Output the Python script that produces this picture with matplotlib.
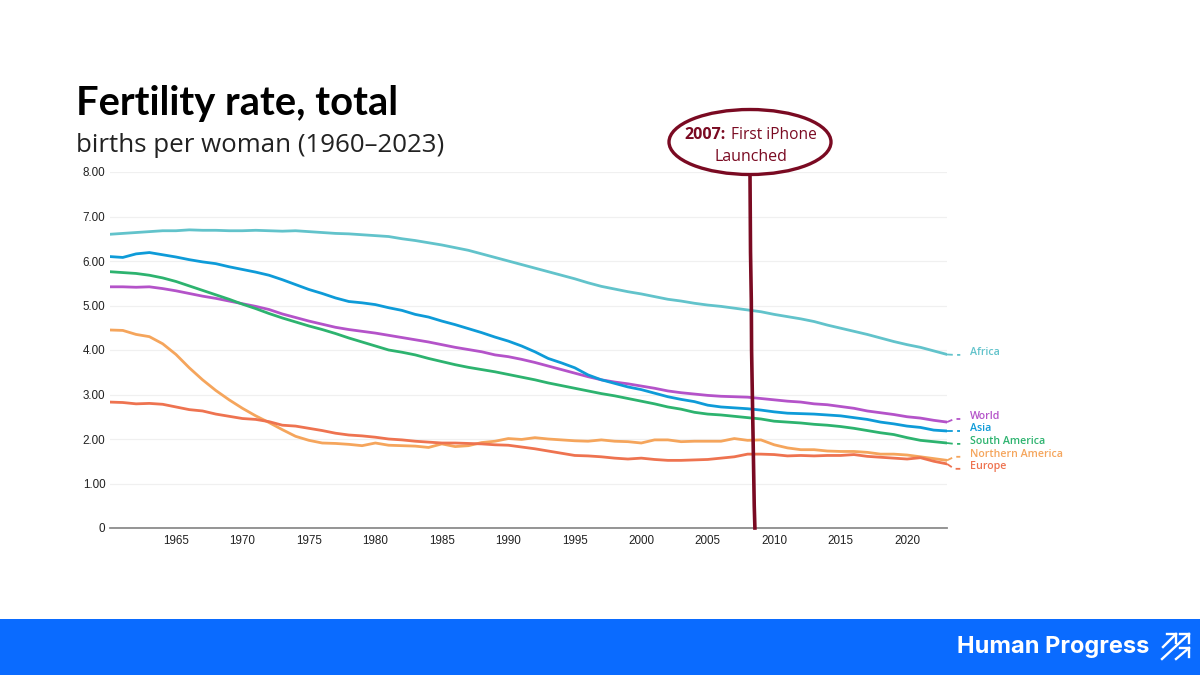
import matplotlib
matplotlib.use("Agg")
import matplotlib.pyplot as plt
from matplotlib.patches import Ellipse, Rectangle
import numpy as np

years = np.arange(1960, 2024)

africa = [6.60, 6.62, 6.64, 6.66, 6.68, 6.68, 6.70, 6.69, 6.69, 6.68, 6.68, 6.69, 6.68, 6.67, 6.68, 6.66,
          6.64, 6.62, 6.61, 6.59, 6.57, 6.55, 6.50, 6.46, 6.41, 6.36, 6.30, 6.24, 6.16, 6.08, 6.00, 5.92,
          5.84, 5.76, 5.68, 5.60, 5.51, 5.43, 5.37, 5.31, 5.26, 5.20, 5.14, 5.10, 5.05, 5.01, 4.98, 4.94,
          4.90, 4.86, 4.80, 4.75, 4.70, 4.64, 4.56, 4.49, 4.42, 4.35, 4.27, 4.19, 4.12, 4.06, 3.98, 3.90]
asia = [6.10, 6.08, 6.16, 6.19, 6.14, 6.09, 6.03, 5.98, 5.94, 5.87, 5.81, 5.75, 5.68, 5.58, 5.47, 5.36,
        5.27, 5.17, 5.09, 5.06, 5.02, 4.95, 4.89, 4.80, 4.74, 4.65, 4.57, 4.48, 4.39, 4.29, 4.20, 4.09,
        3.96, 3.81, 3.71, 3.60, 3.44, 3.33, 3.25, 3.17, 3.11, 3.03, 2.95, 2.89, 2.84, 2.76, 2.72, 2.70,
        2.68, 2.65, 2.61, 2.58, 2.57, 2.56, 2.54, 2.52, 2.48, 2.44, 2.38, 2.34, 2.29, 2.26, 2.20, 2.18]
south_america = [5.76, 5.74, 5.72, 5.68, 5.62, 5.54, 5.44, 5.34, 5.24, 5.14, 5.03, 4.93, 4.82, 4.72, 4.63, 4.54,
                 4.46, 4.37, 4.27, 4.18, 4.09, 4.00, 3.95, 3.89, 3.81, 3.74, 3.67, 3.61, 3.56, 3.51, 3.45, 3.39,
                 3.33, 3.26, 3.20, 3.14, 3.08, 3.02, 2.97, 2.91, 2.85, 2.79, 2.72, 2.67, 2.60, 2.56, 2.54, 2.51,
                 2.48, 2.45, 2.40, 2.38, 2.36, 2.33, 2.31, 2.28, 2.24, 2.19, 2.14, 2.10, 2.03, 1.97, 1.94, 1.91]
world = [5.42, 5.42, 5.41, 5.42, 5.38, 5.33, 5.27, 5.21, 5.16, 5.10, 5.04, 4.98, 4.91, 4.81, 4.73, 4.65,
         4.58, 4.51, 4.46, 4.42, 4.38, 4.33, 4.28, 4.23, 4.18, 4.12, 4.06, 4.01, 3.96, 3.89, 3.85, 3.79,
         3.72, 3.64, 3.56, 3.48, 3.40, 3.33, 3.28, 3.24, 3.19, 3.14, 3.08, 3.04, 3.01, 2.98, 2.96, 2.95,
         2.94, 2.91, 2.88, 2.85, 2.83, 2.79, 2.77, 2.73, 2.69, 2.63, 2.59, 2.55, 2.50, 2.47, 2.42, 2.38]
northern_america = [4.45, 4.44, 4.35, 4.30, 4.14, 3.90, 3.60, 3.33, 3.09, 2.88, 2.69, 2.52, 2.37, 2.21, 2.06, 1.97,
                    1.91, 1.90, 1.88, 1.85, 1.91, 1.86, 1.85, 1.84, 1.81, 1.89, 1.83, 1.85, 1.92, 1.95, 2.01, 1.99,
                    2.03, 2.00, 1.98, 1.96, 1.95, 1.98, 1.95, 1.94, 1.91, 1.98, 1.98, 1.94, 1.95, 1.95, 1.95, 2.01,
                    1.97, 1.98, 1.87, 1.80, 1.76, 1.76, 1.73, 1.72, 1.72, 1.70, 1.66, 1.66, 1.64, 1.60, 1.56, 1.52]
europe = [2.83, 2.82, 2.79, 2.80, 2.78, 2.72, 2.66, 2.63, 2.56, 2.51, 2.46, 2.44, 2.39, 2.31, 2.29, 2.24,
          2.19, 2.13, 2.09, 2.07, 2.04, 2.00, 1.98, 1.95, 1.93, 1.91, 1.91, 1.90, 1.89, 1.87, 1.86, 1.82,
          1.78, 1.73, 1.68, 1.63, 1.62, 1.60, 1.57, 1.55, 1.57, 1.54, 1.52, 1.52, 1.53, 1.54, 1.57, 1.60,
          1.66, 1.66, 1.65, 1.62, 1.63, 1.62, 1.63, 1.63, 1.65, 1.61, 1.59, 1.57, 1.55, 1.58, 1.50, 1.44]

series_names = ['Africa', 'World', 'Asia', 'South America', 'Northern America', 'Europe']
series_values = [africa, world, asia, south_america, northern_america, europe]
series_colors = ['#62C3CB', '#B453C9', '#0E9BD8', '#2DB36F', '#F5A55C', '#EE7350']
label_levels = [3.89, 2.45, 2.18, 1.89, 1.60, 1.33]

y_ticks = [0, 1, 2, 3, 4, 5, 6, 7, 8]
y_tick_labels = ['0', '1.00', '2.00', '3.00', '4.00', '5.00', '6.00', '7.00', '8.00']
x_ticks = list(range(1965, 2021, 5))

marker_x = [2008.18, 2008.22, 2008.28, 2008.3, 2008.5, 2008.55]
marker_y = [8.0, 6.2, 5.1, 4.0, 0.5, 0.0]

dark_red = '#7A0A22'

fig = plt.figure(figsize=(12, 6.75), dpi=100, facecolor='white')

ax = fig.add_axes([109.5 / 1200, (675 - 528) / 675, (947 - 109.5) / 1200, (528 - 172) / 675])
ax.set_xlim(1960, 2023)
ax.set_ylim(0, 8)
for side in ['top', 'right', 'left']:
    ax.spines[side].set_visible(False)
ax.spines['bottom'].set_color('#8c8c8c')
ax.spines['bottom'].set_linewidth(1.3)
ax.set_yticks(y_ticks)
ax.set_yticklabels(y_tick_labels)
ax.set_xticks(x_ticks)
ax.tick_params(axis='x', length=0, labelsize=8.4, labelcolor='#222222', pad=5)
ax.tick_params(axis='y', length=0, labelsize=8.4, labelcolor='#222222', pad=3)
for t in ax.get_xticklabels() + ax.get_yticklabels():
    t.set_family('Liberation Sans')
ax.grid(axis='y', color='#f0f0f0', linewidth=0.9)
ax.set_axisbelow(True)

for name, vals, col, lev in zip(series_names, series_values, series_colors, label_levels):
    ax.plot(years, vals, color=col, linewidth=2.0, solid_joinstyle='round', zorder=3)
    # dashed leader out to the label
    ax.plot([2023, 2023.55, 2024.0], [vals[-1], lev, lev], color=col, linewidth=1.3,
            linestyle=(0, (3.2, 2.4)), clip_on=False, zorder=3)
    ax.text(2024.75, lev + 0.06, name, color=col, fontsize=7.7, fontweight='semibold',
            family='Open Sans', va='center', ha='left', clip_on=False)

ax.plot(marker_x, marker_y, color=dark_red, linewidth=2.6, clip_on=False, zorder=5)

# overlay in pixel coordinates for slide furniture
over = fig.add_axes([0, 0, 1, 1], facecolor='none')
over.set_xlim(0, 1200)
over.set_ylim(675, 0)
over.axis('off')

over.text(76, 103, 'Fertility rate, total', fontsize=28.7, fontweight='bold', family='Lato',
          color='black', va='center', ha='left')
over.text(76, 145, 'births per woman (1960\u20132023)', fontsize=18.6, family='Open Sans',
          color='#222222', va='center', ha='left')

over.add_patch(Ellipse((750, 142), 162, 65, facecolor='white', edgecolor=dark_red, linewidth=2.4, zorder=6))
over.text(684, 135, '2007:', fontsize=11.5, fontweight='bold', family='Open Sans', color=dark_red,
          va='center', ha='left', zorder=7)
over.text(731, 135, 'First iPhone', fontsize=11.2, family='Open Sans', color=dark_red,
          va='center', ha='left', zorder=7)
over.text(751, 157, 'Launched', fontsize=11.5, family='Open Sans', color=dark_red,
          va='center', ha='center', zorder=7)

over.add_patch(Rectangle((0, 619), 1200, 56, facecolor='#0A6BFF', edgecolor='none'))
over.text(957, 647, 'Human Progress', fontsize=17, fontweight='bold', family='Inter', color='white',
          va='center', ha='left')
# logo arrows: shaft, then the corner of the head
logo_arrows = [((1163, 647), (1176, 634), (1167, 634), (1176, 643)),
               ((1162, 659), (1189, 634), (1180, 634), (1189, 643)),
               ((1176, 659), (1189, 648), (1180, 648), (1189, 657))]
for start, tip, head_a, head_b in logo_arrows:
    over.plot([start[0], tip[0]], [start[1], tip[1]], color='white', linewidth=1.7)
    over.plot([head_a[0], tip[0], head_b[0]], [head_a[1], tip[1], head_b[1]], color='white',
              linewidth=1.7, solid_joinstyle='miter')

fig.savefig('out.png', dpi=100)
